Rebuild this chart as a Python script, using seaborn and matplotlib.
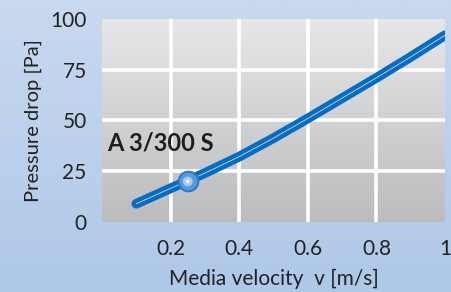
import numpy as np
import pandas as pd
import matplotlib
matplotlib.use("Agg")
import matplotlib.pyplot as plt
from matplotlib.colors import LinearSegmentedColormap
import seaborn as sns

# data
velocity = [0.1, 0.2, 0.25, 0.3, 0.4, 0.5, 0.6, 0.7, 0.8, 0.9, 1.0]
pressure_drop = [9, 16.6, 20.3, 24.1, 32.2, 41.3, 51, 61, 71, 81.3, 92]
marker_v = [0.25]
marker_dp = [20]
x_ticks = [0.2, 0.4, 0.6, 0.8, 1.0]
x_tick_labels = ["0.2", "0.4", "0.6", "0.8", "1"]
y_ticks = [0, 25, 50, 75, 100]
label_text = "A 3/300 S"

df = pd.DataFrame({"v": velocity, "dp": pressure_drop})
mk = pd.DataFrame({"v": marker_v, "dp": marker_dp})

sns.set_style("white")
plt.rcParams["font.family"] = ["Lato", "DejaVu Sans"]

fig = plt.figure(figsize=(4.52, 2.92), dpi=100)

# blue gradient background for the whole figure
bg = fig.add_axes([0, 0, 1, 1], zorder=-1)
bg_cmap = LinearSegmentedColormap.from_list("bg", ["#afc8e8", "#c9d9ef"])
bg.imshow(np.linspace(0, 1, 256).reshape(-1, 1)[::-1], cmap=bg_cmap,
          aspect="auto", extent=[0, 1, 0, 1])
bg.axis("off")

ax = fig.add_axes([0.2257, 0.2397, 0.7588, 0.6953])
ax.set_facecolor("none")

# grey gradient plot area
area_cmap = LinearSegmentedColormap.from_list("area", ["#bbbcbe", "#e6e7e9"])
ax.imshow(np.linspace(0, 1, 256).reshape(-1, 1)[::-1], cmap=area_cmap,
          aspect="auto", extent=[0, 1, 0, 100], zorder=0)

for x in x_ticks[:-1]:
    ax.axvline(x, color="white", lw=2.6, zorder=1)
for y in y_ticks[1:-1]:
    ax.axhline(y, color="white", lw=2.6, zorder=1)

sns.lineplot(data=df, x="v", y="dp", ax=ax, color="#0a6cc0", lw=7,
             solid_capstyle="round", zorder=3)
sns.lineplot(data=df, x="v", y="dp", ax=ax, color="white", lw=0.6,
             alpha=0.75, zorder=4)
sns.scatterplot(data=mk, x="v", y="dp", ax=ax, s=200, color="#5b9ad6",
                edgecolor="#2a7ccc", linewidth=1.5, zorder=5)
sns.scatterplot(data=mk, x="v", y="dp", ax=ax, s=50, color="#a9c9ec",
                edgecolor="none", zorder=6)
sns.scatterplot(data=mk, x="v", y="dp", ax=ax, s=6, color="white",
                edgecolor="none", zorder=7)

ax.text(0.015, 39, label_text, fontsize=17, fontweight="bold",
        color="#1e1e1e", va="center", ha="left", zorder=6)

ax.set_xlim(0, 1)
ax.set_ylim(0, 100)
ax.set_xticks(x_ticks)
ax.set_xticklabels(x_tick_labels)
ax.set_yticks(y_ticks)
ax.tick_params(axis="both", length=0, labelsize=15, colors="#222222")
ax.tick_params(axis="x", pad=12)
ax.tick_params(axis="y", pad=11)
for s in ax.spines.values():
    s.set_visible(False)

ax.set_xlabel("Media velocity  v [m/s]", fontsize=15, color="#222222", labelpad=7)
ax.set_ylabel("Pressure drop [Pa]", fontsize=14.5, color="#222222", labelpad=6)

fig.savefig("out.png", dpi=100)
